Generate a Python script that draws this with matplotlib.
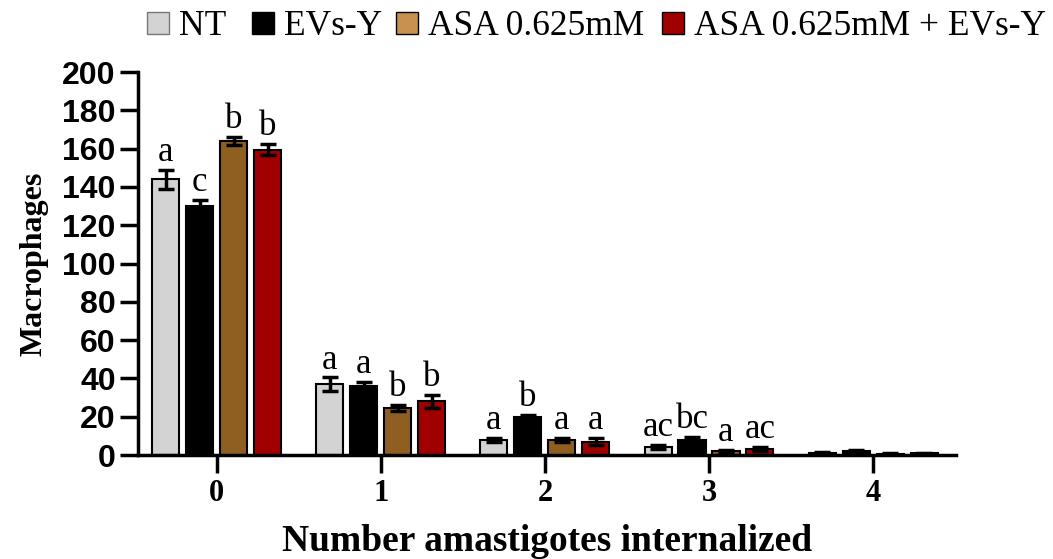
import numpy as np
import matplotlib.pyplot as plt
from matplotlib.patches import Patch

groups = ["0", "1", "2", "3", "4"]
series = ["NT", "EVs-Y", "ASA 0.625mM", "ASA 0.625mM + EVs-Y"]

nt = [144, 37, 7.8, 4, 1]
evs = [130, 36, 19.7, 8, 2]
asa = [164, 24.5, 7.8, 2, 0.5]
asa_evs = [159.5, 28, 7, 3, 1]

nt_err = [5, 3.5, 1, 1, 0.5]
evs_err = [3, 2, 1, 1.5, 0.5]
asa_err = [2, 1.5, 1, 0.5, 0.3]
asa_evs_err = [3, 3.5, 2, 1, 0.3]

letters = [
    ["a", "a", "a", "ac", ""],
    ["c", "a", "b", "bc", ""],
    ["b", "b", "a", "a", ""],
    ["b", "b", "a", "ac", ""],
]

values = [nt, evs, asa, asa_evs]
errors = [nt_err, evs_err, asa_err, asa_evs_err]
bar_colors = ["#d3d3d3", "#000000", "#8f5f22", "#a00000"]
legend_colors = ["#d3d3d3", "#000000", "#c8914f", "#a00000"]
legend_x = [0.136, 0.236, 0.373, 0.625]  # left edge of each legend entry

serif = "Liberation Serif"
sans = "Liberation Sans"

fig = plt.figure(figsize=(10.53, 5.59), dpi=100)
ax = fig.add_axes([0.131, 0.186, 0.777, 0.685])

x = np.arange(len(groups))
pitch = 0.207
width = 0.165
for i, (vals, errs) in enumerate(zip(values, errors)):
    pos = x + (i - 1.5) * pitch
    ax.bar(pos, vals, width, color=bar_colors[i], edgecolor="black", linewidth=1.5, zorder=2)
    ax.errorbar(pos, vals, yerr=errs, fmt="none", ecolor="black",
                elinewidth=2.5, capsize=6, capthick=2.5, zorder=3)
    for p, v, e, t in zip(pos, vals, errs, letters[i]):
        if t:
            ax.text(p, v + e + 0.5, t, ha="center", va="bottom",
                    family=serif, fontsize=25)

ax.set_xlim(-0.48, 4.506)
ax.set_ylim(0, 200)
ax.set_yticks(range(0, 201, 20))
ax.set_xticks(x)
ax.set_xticklabels(groups, family=serif, fontweight="bold", fontsize=22)
for lab in ax.get_yticklabels():
    lab.set_family(sans)
    lab.set_fontweight("bold")
    lab.set_fontsize(23)

for side in ["top", "right"]:
    ax.spines[side].set_visible(False)
for side in ["left", "bottom"]:
    ax.spines[side].set_linewidth(2.5)
ax.tick_params(axis="both", direction="out", length=13, width=2.5)
ax.tick_params(axis="x", pad=4)
ax.tick_params(axis="y", pad=3)

ax.set_ylabel("Macrophages", family=serif, fontweight="bold", fontsize=23, labelpad=10)
ax.set_xlabel("Number amastigotes internalized", family=serif, fontweight="bold",
              fontsize=27, labelpad=12)

# one legend per entry so each sits at its own position
for name, c, lx in zip(series, legend_colors, legend_x):
    h = Patch(facecolor=c, edgecolor="black" if c != "#d3d3d3" else "#777777", linewidth=1)
    fig.legend([h], [name], loc="upper left", bbox_to_anchor=(lx, 0.988),
               frameon=False, prop={"family": serif, "size": 25.5},
               borderpad=0.1, borderaxespad=0,
               handlelength=0.62, handleheight=0.58, handletextpad=0.28)

fig.savefig("out.png", dpi=100)
